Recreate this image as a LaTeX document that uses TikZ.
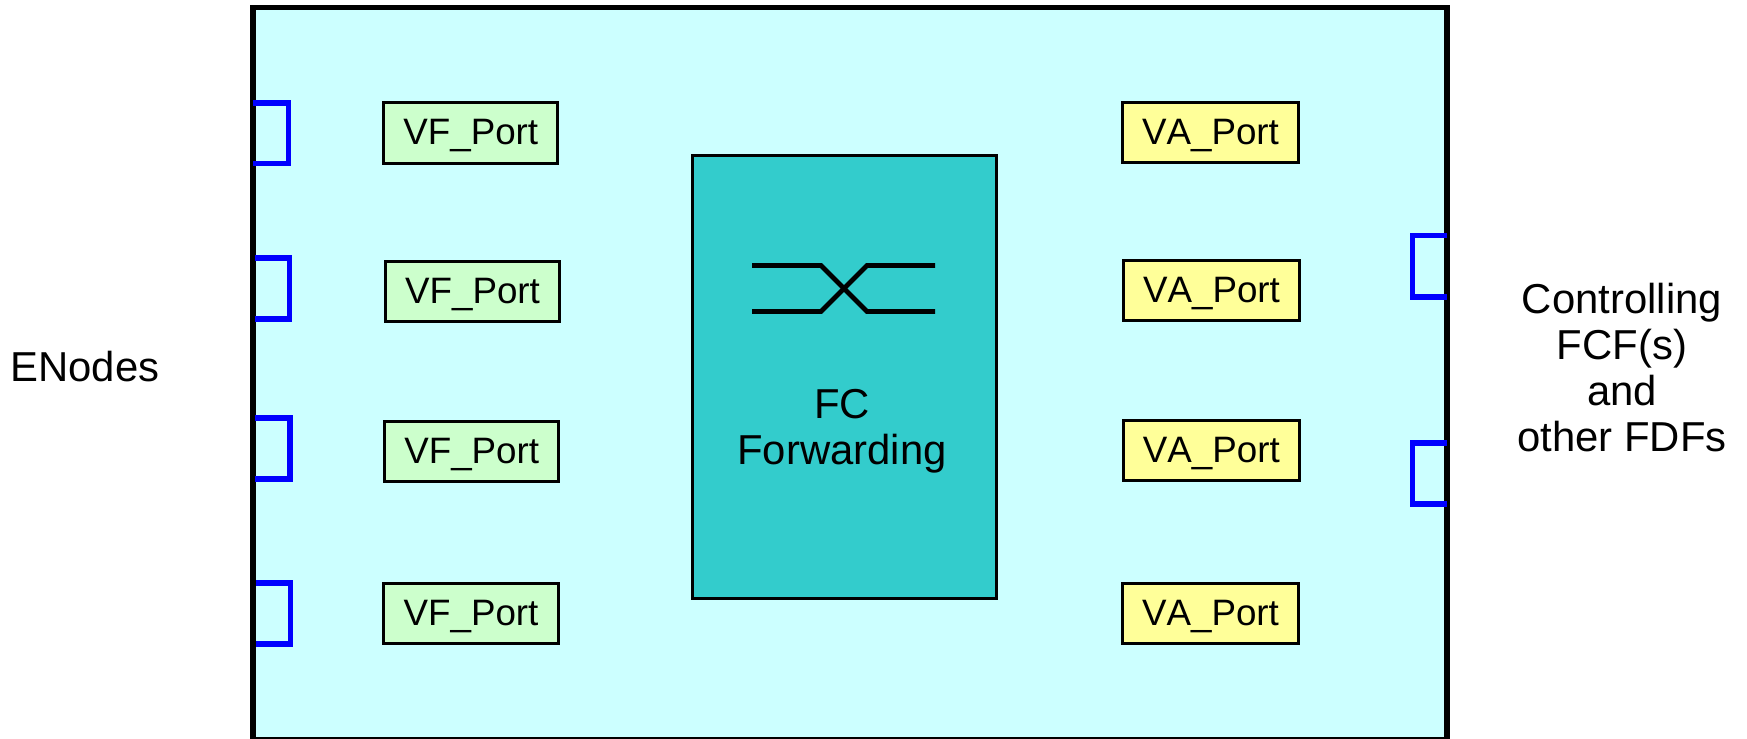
\documentclass[tikz,border=0pt]{standalone}
\usepackage{fontspec}
\setmainfont[Kerning=Off]{Liberation Sans}
\definecolor{shelf}{HTML}{CCFFFF}
\definecolor{teal}{HTML}{33CCCC}
\definecolor{vfgreen}{HTML}{CCFFCC}
\definecolor{vayellow}{HTML}{FFFF99}
\definecolor{portblue}{HTML}{0000FF}
\tikzset{
  portbox/.style={draw, line width=0.85pt, inner sep=0, minimum width=1.74cm, minimum height=0.6cm,
    font=\fontsize{10.45}{12}\selectfont, text height=7.5pt, text depth=0.7pt},
  vfport/.style={portbox, fill=vfgreen},
  vaport/.style={portbox, fill=vayellow, minimum width=1.76cm},
  plug/.style={portblue, line width=1.5pt},
  crossing/.style={line width=1.4pt},
  caption/.style={font=\fontsize{11.9}{13.15}\selectfont, align=center, inner sep=0}
}
\begin{document}
\begin{tikzpicture}[x=0.01cm,y=-0.01cm]
    \useasboundingbox (0,0) rectangle (1747,739);
    \draw [fill=shelf, line width=1.5pt] (253,7.5) rectangle (1447,739.5);
    \node [draw, fill=teal, line width=0.9pt, inner sep=0, minimum width=3.03cm, minimum height=4.43cm] (fcbox) at (844.5,377) {};
    \draw [crossing] (752,265.5) -- (821,265.5) -- (867,311.5) -- (935,311.5);
    \draw [crossing] (752,311.5) -- (821,311.5) -- (867,265.5) -- (935,265.5);
    \node [caption] (fclabel) at (842,431.5) {FC\\Forwarding};
    \node [vfport] (vf1) at (470.8,133) {VF\_Port};
    \node [vfport] (vf2) at (472.5,291.2) {VF\_Port};
    \node [vfport] (vf3) at (471.7,451.3) {VF\_Port};
    \node [vfport] (vf4) at (471,613.8) {VF\_Port};
    \node [vaport] (va1) at (1210.5,132.3) {VA\_Port};
    \node [vaport] (va2) at (1211.5,290.5) {VA\_Port};
    \node [vaport] (va3) at (1211.3,450.7) {VA\_Port};
    \node [vaport] (va4) at (1210.5,613.5) {VA\_Port};
    \draw [plug] (253,103) -- (288.5,103) -- (288.5,163.5) -- (253,163.5);
    \draw [plug] (255,258) -- (289.5,258) -- (289.5,319) -- (255,319);
    \draw [plug] (255,418) -- (290,418) -- (290,479) -- (255,479);
    \draw [plug] (256,583) -- (290.5,583) -- (290.5,644) -- (256,644);
    \draw [plug] (1447,235.5) -- (1412.5,235.5) -- (1412.5,297) -- (1447,297);
    \draw [plug] (1447,443) -- (1412.5,443) -- (1412.5,504) -- (1447,504);
    \node [caption] (enodes) at (85,366.5) {ENodes};
    \node [caption] (fcfs) at (1622,367.5) {Controlling\\FCF(s)\\and\\other FDFs};
\end{tikzpicture}
\end{document}
